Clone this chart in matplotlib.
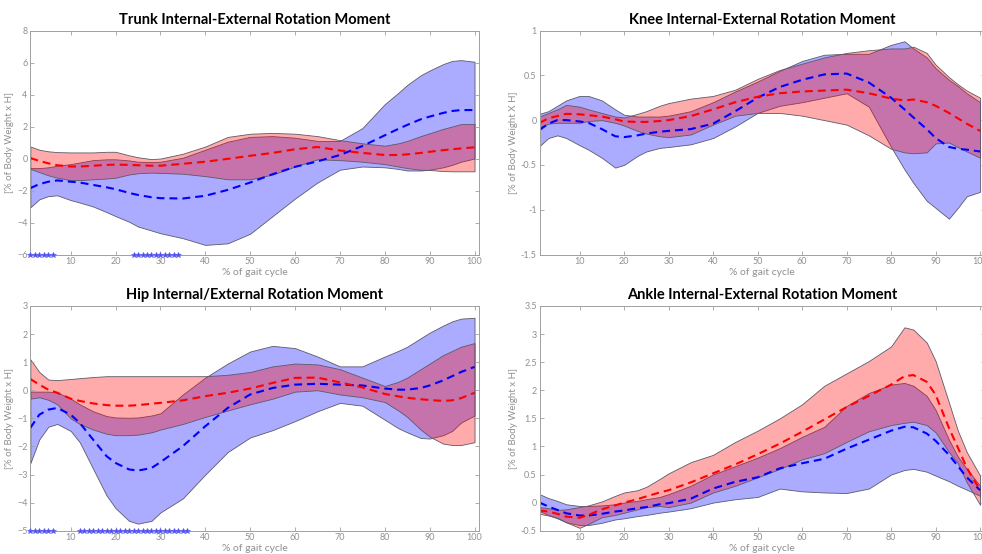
import matplotlib
matplotlib.use("Agg")
from matplotlib import pyplot as plt

plt.rcParams['font.family'] = ['Lato', 'DejaVu Sans']

gait = [1, 3, 5, 7, 10, 12, 15, 18, 20, 23, 25, 28, 30, 35, 40, 45, 50, 55, 60, 65,
        70, 75, 80, 83, 85, 88, 90, 93, 95, 97, 100]

# Trunk
trunk_blue_mean = [-1.85, -1.6, -1.45, -1.37, -1.45, -1.5, -1.65, -1.8, -1.92, -2.15, -2.28, -2.42, -2.48, -2.5, -2.33, -1.96,
                   -1.5, -0.98, -0.52, -0.18, 0.22, 0.78, 1.45, 1.85, 2.1, 2.45, 2.62, 2.85, 2.97, 3.03, 3.03]
trunk_blue_hi = [-0.6, -0.6, -0.55, -0.45, -0.35, -0.25, -0.1, -0.05, -0.05, -0.12, -0.2, -0.22, -0.2, 0.05, 0.55, 1.05,
                 1.35, 1.4, 1.3, 1.1, 1.1, 1.9, 3.4, 4.1, 4.6, 5.2, 5.5, 5.9, 6.1, 6.15, 6.05]
trunk_blue_lo = [-3.05, -2.55, -2.35, -2.3, -2.6, -2.75, -3.0, -3.35, -3.6, -3.95, -4.25, -4.5, -4.67, -4.98, -5.4, -5.3,
                 -4.7, -3.6, -2.5, -1.5, -0.7, -0.5, -0.55, -0.65, -0.75, -0.75, -0.7, -0.55, -0.4, -0.2, 0.0]
trunk_red_mean = [0.03, -0.15, -0.3, -0.42, -0.5, -0.5, -0.45, -0.4, -0.38, -0.4, -0.42, -0.45, -0.45, -0.33, -0.2, -0.02,
                  0.17, 0.35, 0.58, 0.72, 0.5, 0.35, 0.22, 0.22, 0.26, 0.35, 0.42, 0.52, 0.58, 0.63, 0.7]
trunk_red_hi = [0.75, 0.55, 0.45, 0.4, 0.38, 0.38, 0.38, 0.42, 0.42, 0.2, 0.08, -0.04, 0.0, 0.3, 0.75, 1.35,
                1.55, 1.6, 1.55, 1.4, 1.15, 0.95, 0.8, 0.95, 1.1, 1.4, 1.58, 1.85, 2.0, 2.15, 2.15]
trunk_red_lo = [-0.65, -0.85, -1.05, -1.2, -1.35, -1.35, -1.3, -1.25, -1.2, -1.0, -0.92, -0.88, -0.9, -0.95, -1.1, -1.3,
                -1.3, -1.0, -0.5, -0.05, -0.1, -0.2, -0.35, -0.5, -0.6, -0.7, -0.72, -0.78, -0.8, -0.8, -0.8]
trunk_stars = [1, 2, 3, 4, 5, 6, 24, 25, 26, 27, 28, 29, 30, 31, 32, 33, 34]

# Knee
knee_blue_mean = [-0.11, -0.04, 0.0, 0.0, -0.015, -0.03, -0.1, -0.18, -0.19, -0.17, -0.15, -0.13, -0.12, -0.1, -0.04, 0.1,
                  0.25, 0.37, 0.45, 0.51, 0.52, 0.42, 0.25, 0.12, 0.03, -0.1, -0.2, -0.3, -0.32, -0.33, -0.35]
knee_blue_hi = [0.07, 0.1, 0.16, 0.22, 0.27, 0.27, 0.22, 0.12, 0.06, 0.04, 0.04, 0.04, 0.05, 0.1, 0.2, 0.32,
                0.43, 0.55, 0.66, 0.73, 0.74, 0.74, 0.84, 0.88, 0.8, 0.7, 0.58, 0.45, 0.38, 0.3, 0.2]
knee_blue_lo = [-0.29, -0.2, -0.17, -0.2, -0.28, -0.33, -0.42, -0.53, -0.5, -0.4, -0.35, -0.31, -0.3, -0.27, -0.2, -0.07,
                0.08, 0.16, 0.2, 0.25, 0.3, 0.15, -0.3, -0.55, -0.7, -0.9, -0.98, -1.1, -0.98, -0.85, -0.8]
knee_red_mean = [-0.03, 0.02, 0.045, 0.07, 0.065, 0.055, 0.04, 0.01, -0.015, -0.02, -0.02, -0.01, 0.0, 0.045, 0.12, 0.2,
                 0.26, 0.3, 0.32, 0.33, 0.34, 0.3, 0.24, 0.22, 0.23, 0.2, 0.16, 0.08, 0.02, -0.04, -0.12]
knee_red_hi = [0.04, 0.08, 0.12, 0.17, 0.15, 0.12, 0.08, 0.04, 0.03, 0.07, 0.1, 0.16, 0.19, 0.24, 0.27, 0.34,
               0.46, 0.56, 0.63, 0.7, 0.75, 0.78, 0.8, 0.8, 0.82, 0.75, 0.62, 0.48, 0.4, 0.33, 0.25]
knee_red_lo = [-0.08, -0.04, -0.03, -0.03, -0.03, -0.01, 0.0, -0.03, -0.06, -0.12, -0.15, -0.18, -0.19, -0.16, -0.05, 0.05,
               0.08, 0.08, 0.05, 0.0, -0.05, -0.17, -0.32, -0.36, -0.37, -0.36, -0.26, -0.25, -0.3, -0.35, -0.42]

# Hip
hip_blue_mean = [-1.34, -0.87, -0.69, -0.63, -0.87, -1.16, -1.76, -2.35, -2.59, -2.82, -2.86, -2.77, -2.56, -1.99, -1.28, -0.63,
                 -0.15, 0.08, 0.2, 0.23, 0.2, 0.17, 0.06, 0.02, 0.02, 0.08, 0.17, 0.35, 0.5, 0.65, 0.83]
hip_blue_hi = [-0.05, -0.05, -0.05, -0.08, -0.3, -0.5, -0.75, -0.92, -0.97, -0.98, -0.97, -0.9, -0.82, -0.15, 0.45, 0.95,
               1.38, 1.58, 1.5, 1.2, 0.85, 0.85, 1.2, 1.4, 1.55, 1.85, 2.05, 2.3, 2.45, 2.55, 2.58]
hip_blue_lo = [-2.6, -1.75, -1.3, -1.2, -1.45, -1.85, -2.8, -3.75, -4.2, -4.65, -4.75, -4.65, -4.35, -3.85, -3.0, -2.2,
               -1.68, -1.42, -1.1, -0.75, -0.45, -0.55, -1.05, -1.35, -1.5, -1.7, -1.72, -1.6, -1.45, -1.15, -0.9]
hip_red_mean = [0.4, 0.2, 0.02, -0.09, -0.3, -0.38, -0.47, -0.53, -0.55, -0.55, -0.53, -0.48, -0.45, -0.36, -0.21, -0.09,
                0.06, 0.26, 0.44, 0.45, 0.28, 0.1, -0.13, -0.22, -0.27, -0.32, -0.35, -0.38, -0.36, -0.28, -0.09]
hip_red_hi = [1.1, 0.65, 0.38, 0.36, 0.4, 0.43, 0.47, 0.5, 0.5, 0.5, 0.5, 0.5, 0.5, 0.5, 0.5, 0.55,
              0.65, 0.85, 0.95, 0.92, 0.75, 0.45, 0.15, 0.3, 0.45, 0.75, 0.95, 1.25, 1.4, 1.55, 1.68]
hip_red_lo = [-0.3, -0.25, -0.34, -0.5, -1.0, -1.2, -1.4, -1.55, -1.6, -1.6, -1.58, -1.5, -1.4, -1.2, -0.95, -0.72,
              -0.5, -0.3, -0.05, 0.0, -0.15, -0.25, -0.42, -0.72, -0.95, -1.4, -1.65, -1.9, -1.95, -1.95, -1.85]
hip_stars = [1, 2, 3, 4, 5, 6] + list(range(12, 37))

# Ankle
ankle_blue_mean = [0.0, -0.07, -0.13, -0.19, -0.23, -0.23, -0.2, -0.16, -0.14, -0.1, -0.08, -0.03, -0.01, 0.07, 0.25, 0.37,
                   0.45, 0.61, 0.7, 0.78, 0.96, 1.12, 1.28, 1.35, 1.34, 1.23, 1.1, 0.85, 0.65, 0.45, 0.22]
ankle_blue_hi = [0.15, 0.08, 0.03, -0.03, -0.06, -0.06, -0.05, -0.03, 0.0, 0.03, 0.06, 0.1, 0.15, 0.3, 0.5, 0.65,
                 0.8, 0.97, 1.17, 1.35, 1.72, 1.95, 2.1, 2.13, 2.08, 1.9, 1.65, 1.12, 0.82, 0.6, 0.3]
ankle_blue_lo = [-0.15, -0.22, -0.28, -0.35, -0.4, -0.4, -0.36, -0.3, -0.28, -0.24, -0.22, -0.18, -0.16, -0.1, 0.0, 0.06,
                 0.1, 0.25, 0.2, 0.18, 0.17, 0.25, 0.5, 0.58, 0.6, 0.55, 0.48, 0.38, 0.3, 0.23, 0.12]
ankle_red_mean = [-0.14, -0.16, -0.2, -0.25, -0.27, -0.22, -0.12, -0.05, 0.0, 0.06, 0.11, 0.18, 0.22, 0.36, 0.52, 0.68,
                  0.86, 1.05, 1.26, 1.48, 1.7, 1.9, 2.1, 2.25, 2.27, 2.15, 1.92, 1.33, 0.98, 0.62, 0.22]
ankle_red_hi = [-0.08, -0.1, -0.13, -0.12, -0.08, -0.05, 0.02, 0.12, 0.18, 0.22, 0.28, 0.42, 0.52, 0.72, 0.85, 1.08,
                1.28, 1.5, 1.75, 2.08, 2.3, 2.52, 2.78, 3.12, 3.08, 2.85, 2.52, 1.78, 1.28, 0.9, 0.48]
ankle_red_lo = [-0.2, -0.23, -0.27, -0.35, -0.45, -0.38, -0.26, -0.22, -0.18, -0.12, -0.08, -0.06, -0.08, 0.0, 0.18, 0.3,
                0.45, 0.6, 0.77, 0.88, 1.08, 1.27, 1.38, 1.42, 1.44, 1.38, 1.25, 0.9, 0.7, 0.36, -0.04]

grey = '#909090'
edge = '#5a5a6a'


def panel(ax, title, ylabel, ylim, yticks, blue, red, stars=None):
    # blue group first, red drawn on top of it
    ax.fill_between(gait, blue[2], blue[1], facecolor=(0, 0, 1, 0.33), edgecolor=edge, linewidth=0.6)
    ax.fill_between(gait, red[2], red[1], facecolor=(1, 0, 0, 0.33), edgecolor=edge, linewidth=0.6)
    ax.plot(gait, blue[0], color='#0000ff', lw=1.5, ls=(0, (3.8, 2.4)))
    ax.plot(gait, red[0], color='#ff0000', lw=1.5, ls=(0, (3.8, 2.4)))
    if stars:
        ax.plot(stars, [ylim[0]] * len(stars), ls='none', marker='*', ms=4, mew=0.5,
                color='#4a4af0', mec='#6060f0', clip_on=False, zorder=5)
    ax.set_xlim(1, 101)
    ax.set_ylim(ylim)
    ax.set_xticks(range(10, 101, 10))
    ax.set_yticks(yticks)
    ax.tick_params(direction='in', length=3, width=0.6, color='#a0a0a0', labelcolor=grey,
                   labelsize=6.5, top=True, right=True, pad=2)
    for s in ax.spines.values():
        s.set_color('#a0a0a0')
        s.set_linewidth(0.7)
    ax.set_title(title, fontsize=10.5, fontweight='bold', pad=5)
    ax.set_xlabel('% of gait cycle', fontsize=7.5, color=grey, labelpad=1)
    ax.set_ylabel(ylabel, fontsize=7, color=grey, labelpad=2)


fig = plt.figure(figsize=(9.82, 5.54), dpi=100)
ax1 = fig.add_axes([0.0309, 0.5406, 0.4569, 0.4043])
ax2 = fig.add_axes([0.5494, 0.5406, 0.4532, 0.4043])
ax3 = fig.add_axes([0.0309, 0.0421, 0.4569, 0.4056])
ax4 = fig.add_axes([0.5494, 0.0421, 0.4532, 0.4056])

panel(ax1, 'Trunk Internal-External Rotation Moment', '[% of Body Weight x H]', (-6, 8), range(-6, 9, 2),
      (trunk_blue_mean, trunk_blue_hi, trunk_blue_lo), (trunk_red_mean, trunk_red_hi, trunk_red_lo), trunk_stars)
panel(ax2, 'Knee Internal-External Rotation Moment', '[% of Body Weight X H]', (-1.5, 1), [-1.5, -1, -0.5, 0, 0.5, 1],
      (knee_blue_mean, knee_blue_hi, knee_blue_lo), (knee_red_mean, knee_red_hi, knee_red_lo))
panel(ax3, 'Hip Internal/External Rotation Moment', '[% of Body Weight x H]', (-5, 3), range(-5, 4),
      (hip_blue_mean, hip_blue_hi, hip_blue_lo), (hip_red_mean, hip_red_hi, hip_red_lo), hip_stars)
panel(ax4, 'Ankle Internal-External Rotation Moment', '[% of Body Weight x H]', (-0.5, 3.5),
      [-0.5, 0, 0.5, 1, 1.5, 2, 2.5, 3, 3.5],
      (ankle_blue_mean, ankle_blue_hi, ankle_blue_lo), (ankle_red_mean, ankle_red_hi, ankle_red_lo))

for ax in (ax2, ax4):
    ax.yaxis.set_major_formatter(matplotlib.ticker.FuncFormatter(lambda v, p: ('%g' % v)))

fig.savefig('out.png', dpi=100)
